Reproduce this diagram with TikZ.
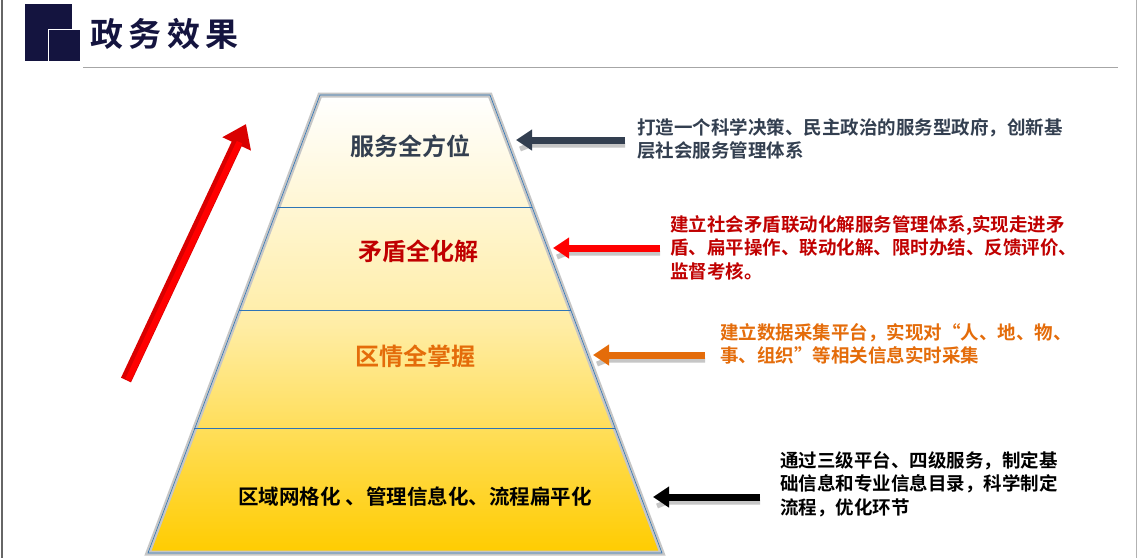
\documentclass[tikz,border=0pt]{standalone}
\usepackage{fontspec}
\newfontfamily\cjk{Noto Sans CJK SC}[BoldFont={Noto Sans CJK SC Bold}]
\usetikzlibrary{positioning,arrows.meta}
\definecolor{navy}{HTML}{14143F}
\definecolor{slate}{HTML}{333F50}
\definecolor{darkred}{HTML}{C00000}
\definecolor{orangec}{HTML}{E46C0A}
\definecolor{pyryellow}{HTML}{FFCC00}
\definecolor{edgeblue}{HTML}{2E75B6}
\begin{document}
\begin{tikzpicture}[x=1pt,y=-1pt,
  level/.style={font=\cjk\bfseries\fontsize{24}{28}\selectfont},
  note/.style={font=\cjk\bfseries\fontsize{18.5}{23.5}\selectfont,align=left,anchor=north west,inner sep=0pt},
  pointer/.style={line width=7pt,-{Triangle[length=16pt,width=20pt]}},
  shade/.style={line width=5pt,draw=gray!45},
]
\useasboundingbox (0,0) rectangle (1141,558);
\fill[white] (0,0) rectangle (1141,558);
\draw[gray!80!black,line width=2pt] (2,0) -- (2,558);
\draw[gray!60,line width=1pt] (1136,0) -- (1136,558);
% logo and title
\fill[navy] (25,4) rectangle (72,61);
\draw[white,line width=1pt,fill=navy] (48,29) rectangle (80,61);
\node[font=\cjk\bfseries\fontsize{33}{38}\selectfont,text=navy,anchor=west,inner sep=0pt] (title) at (90,34) {政\,务\,效\,果};
\draw[gray!70,line width=0.8pt] (83,67) -- (1118,67);
% pyramid
\shade[top color=white,bottom color=pyryellow,middle color=pyryellow!35]
  (320,95) -- (490,95) -- (662,553) -- (148,553) -- cycle;
\draw[edgeblue,line width=0.6pt] (320,95) -- (490,95) -- (662,553) -- (148,553) -- cycle;
\foreach \yy/\xl/\xr in {207/278/532, 310/239/571, 428/194/615}
  \draw[edgeblue,line width=0.6pt] (\xl,\yy) -- (\xr,\yy);
\node[level,text=slate] (l1) at (410,146) {服务全方位};
\node[level,text=darkred] (l2) at (418,251) {矛盾全化解};
\node[level,text=orangec] (l3) at (415,356) {区情全掌握};
\node[level,text=black,font=\cjk\bfseries\fontsize{20.5}{24}\selectfont] (l4) at (415,497) {区域网格化 、管理信息化、流程扁平化};
% notes
\node[note,text=slate] (n1) at (637,118) {打造一个科学决策、民主政治的服务型政府，创新基\\层社会服务管理体系};
\node[note,text=darkred] (n2) at (670,215) {建立社会矛盾联动化解服务管理体系,实现走进矛\\盾、扁平操作、联动化解、限时办结、反馈评价、\\监督考核。};
\node[note,text=orangec] (n3) at (720,323) {建立数据采集平台，实现对“人、地、物、\\事、组织”等相关信息实时采集};
\node[note,text=black] (n4) at (780,451) {通过三级平台、四级服务，制定基\\础信息和专业信息目录，科学制定\\流程，优化环节};
% pointers
\foreach \yy/\xa/\xb/\cc in {140/625/516/slate, 248/660/553/red, 355/705/593/orangec, 497/760/653/black}{
  \coordinate (s) at (\xa,\yy);
  \coordinate (e) at (\xb,\yy);
  \draw[shade] ([yshift=-5pt]s) -- ([xshift=14pt,yshift=-5pt]e) -- ([xshift=4pt,yshift=-9pt]e);
  \draw[pointer,draw=\cc,fill=\cc] (s) -- (e);
}
% big arrow
\coordinate (tail) at (126,380);
\coordinate (tip) at (246,124);
\draw[red!85!black,line width=11pt,-{Triangle[length=22pt,width=30pt]}] (tail) -- (tip);
\draw[red,line width=6pt,shorten >=20pt] ([xshift=2pt]tail) -- ([xshift=2pt]tip);
\end{tikzpicture}
\end{document}
